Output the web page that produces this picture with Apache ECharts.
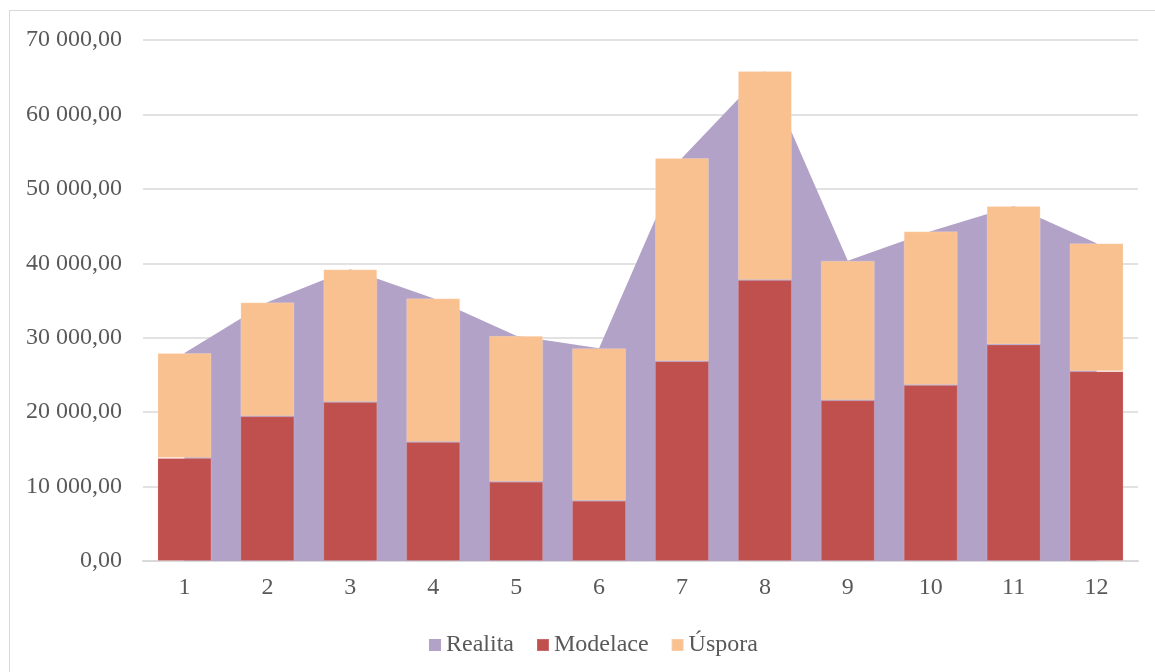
<!DOCTYPE html>
<html>
<head>
<meta charset="utf-8">
<script src="https://cdn.jsdelivr.net/npm/echarts@6/dist/echarts.min.js"></script>
<style>
  html, body { margin: 0; padding: 0; background: #fff; overflow: hidden; }
  #frame { position: absolute; left: 9px; top: 10px; width: 1160px; height: 680px; border: 1px solid #d9d9d9; }
  #main { position: absolute; left: 0; top: 0; width: 1155px; height: 672px; }
</style>
</head>
<body>
<div id="frame"></div>
<div id="main"></div>
<script>
//----------- Data
const months = ["1", "2", "3", "4", "5", "6", "7", "8", "9", "10", "11", "12"];
const realita = [27950, 34750, 39200, 35300, 30250, 28600, 54150, 65850, 40350, 44300, 47700, 42700];
const modelace = [13850, 19450, 21350, 16000, 10650, 8100, 26850, 37750, 21600, 23650, 29100, 25500];
const uspora = [14100, 15300, 17850, 19300, 19600, 20500, 27300, 28100, 18750, 20650, 18600, 17200];
//----------- Data

const font = "'Liberation Serif', 'Times New Roman', serif";
const textColor = "#595959";

// 70 000,00 style
const fmt = v => {
    const parts = v.toFixed(2).split(".");
    return parts[0].replace(/\B(?=(\d{3})+(?!\d))/g, " ") + "," + parts[1];
};

const myChart = echarts.init(document.getElementById("main"));

const option = {
    animation: false,
    textStyle: { fontFamily: font },
    grid: { left: 143, right: 17, top: 40, bottom: 111 },
    legend: {
        left: 424,
        top: 628,
        itemWidth: 12,
        itemHeight: 12,
        itemGap: 22,
        textStyle: { fontFamily: font, fontSize: 24, color: textColor },
        data: [
            { name: "Realita", icon: "rect" },
            { name: "Modelace", icon: "rect" },
            { name: "Úspora", icon: "rect" }
        ]
    },
    xAxis: {
        type: "category",
        data: months,
        boundaryGap: true,
        axisLine: { lineStyle: { color: "#d9d9d9", width: 2 } },
        axisTick: { show: false },
        axisLabel: { fontFamily: font, fontSize: 24, color: textColor, margin: 15 }
    },
    yAxis: {
        type: "value",
        min: 0,
        max: 70000,
        interval: 10000,
        axisLine: { show: false },
        axisTick: { show: false },
        splitLine: { lineStyle: { color: "#d9d9d9", width: 1.5 } },
        axisLabel: { fontFamily: font, fontSize: 24, color: textColor, margin: 21, formatter: fmt }
    },
    series: [
        {
            name: "Realita",
            type: "line",
            data: realita,
            symbol: "none",
            lineStyle: { width: 0 },
            itemStyle: { color: "#b3a2c7" },
            areaStyle: { color: "#b3a2c7", opacity: 1 },
            z: 1
        },
        {
            name: "Modelace",
            type: "bar",
            stack: "total",
            data: modelace,
            barWidth: 54,
            itemStyle: { color: "#c0504d", borderColor: "rgba(255,255,255,0.15)", borderWidth: 1 },
            z: 3
        },
        {
            name: "Úspora",
            type: "bar",
            stack: "total",
            data: uspora,
            barWidth: 54,
            itemStyle: { color: "#f9c090", borderColor: "rgba(255,255,255,0.2)", borderWidth: 1 },
            z: 3
        }
    ]
};

myChart.setOption(option);
</script>
</body>
</html>
